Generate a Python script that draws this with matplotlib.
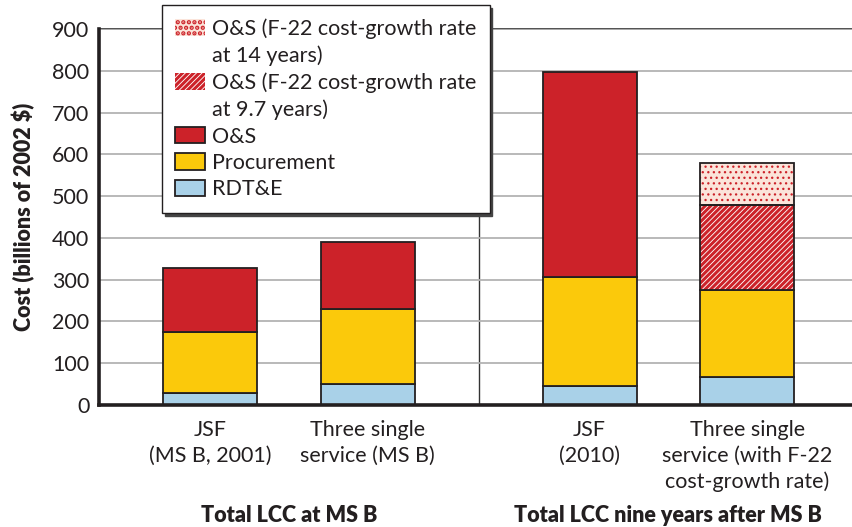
import numpy as np
import matplotlib.pyplot as plt
from matplotlib.patches import Patch

plt.rcParams['font.family'] = ['Lato', 'DejaVu Sans']
plt.rcParams['hatch.linewidth'] = 2.2

# data (billions of 2002 $)
categories = ['JSF\n(MS B, 2001)', 'Three single\nservice (MS B)',
              'JSF\n(2010)', 'Three single\nservice (with F-22\ncost-growth rate)']
rdte = [28, 50, 45, 67]
procurement = [147, 180, 261, 208]
os_base = [153, 159, 491, 0]
os_97 = [0, 0, 0, 204]
os_14 = [0, 0, 0, 100]
groups = ['Total LCC at MS B', 'Total LCC nine years after MS B']

red = '#CC2229'
yellow = '#FBC90B'
blue = '#A9D1E8'
pink = '#FBE4DA'
edge = '#231F20'
fs = 15.5

fig = plt.figure(figsize=(8.53, 5.27), dpi=100)
ax = fig.add_axes([99 / 853, 1 - 405 / 527, 754 / 853, 376 / 527])

x = np.array([0, 1, 2.41, 3.41])
w = 0.597
rdte = np.array(rdte)
procurement = np.array(procurement)
os_base = np.array(os_base)
os_97 = np.array(os_97)
os_14 = np.array(os_14)


def thin_hatch(patches, lw):
    for p in patches:
        if hasattr(p, 'set_hatch_linewidth'):
            p.set_hatch_linewidth(lw)


kw = dict(width=w, edgecolor=edge, linewidth=1.3, zorder=3)
ax.bar(x, rdte, color=blue, **kw)
ax.bar(x, procurement, bottom=rdte, color=yellow, **kw)
b2 = rdte + procurement
ax.bar(x[:3], os_base[:3], bottom=b2[:3], color=red, **kw)

# hatched O&S segments (hatch drawn in red, outline drawn separately)
ax.bar(x[3], os_97[3], bottom=b2[3], width=w, color='white', edgecolor=red,
       hatch='//////', linewidth=0, zorder=3)
ax.bar(x[3], os_97[3], bottom=b2[3], width=w, color='none', edgecolor=edge,
       linewidth=1.3, zorder=4)
b3 = b2 + os_97
dots = ax.bar(x[3], os_14[3], bottom=b3[3], width=w, color=pink, edgecolor=red,
              hatch='...', linewidth=0, zorder=3)
thin_hatch(dots, 0.9)
ax.bar(x[3], os_14[3], bottom=b3[3], width=w, color='none', edgecolor=edge,
       linewidth=1.3, zorder=4)

ax.set_xlim(-0.705, 4.082)
ax.set_ylim(0, 900)
ax.set_yticks(range(0, 901, 100))
ax.set_xticks(x)
ax.set_xticklabels(categories, fontsize=fs, color='#231F20', linespacing=1.35)
ax.tick_params(axis='both', length=0, labelsize=fs, colors='#231F20')
ax.tick_params(axis='y', pad=7)
ax.tick_params(axis='x', pad=11)

ax.grid(axis='y', color='#B3B3B3', linewidth=1.3, zorder=0)
ax.axhline(900, color='#333333', linewidth=1.2, zorder=1, clip_on=False)
ax.axvline((x[1] + x[2]) / 2, color='#333333', linewidth=1, zorder=1)
for s in ['top', 'right']:
    ax.spines[s].set_visible(False)
for s in ['left', 'bottom']:
    ax.spines[s].set_linewidth(2.6)
    ax.spines[s].set_color('#231F20')
    ax.spines[s].set_zorder(5)

ax.set_ylabel('Cost (billions of 2002 $)', fontsize=fs, fontweight='heavy',
              color='#231F20', labelpad=12)

ax.text((x[0] + x[1]) / 2, -0.295, groups[0], transform=ax.get_xaxis_transform(),
        ha='center', va='center', fontsize=fs, fontweight='heavy', color='#231F20')
ax.text((x[2] + x[3]) / 2, -0.295, groups[1], transform=ax.get_xaxis_transform(),
        ha='center', va='center', fontsize=fs, fontweight='heavy', color='#231F20')

# legend: wrapped labels get a blank handle on their second line
blank = Patch(facecolor='none', edgecolor='none')
dot_h = Patch(facecolor=pink, edgecolor=red, hatch='...', linewidth=0)
thin_hatch([dot_h], 0.9)
handles = [
    dot_h, blank,
    Patch(facecolor='white', edgecolor=red, hatch='//////', linewidth=0), blank,
    Patch(facecolor=red, edgecolor=edge, linewidth=1.3),
    Patch(facecolor=yellow, edgecolor=edge, linewidth=1.3),
    Patch(facecolor=blue, edgecolor=edge, linewidth=1.3),
]
labels = ['O&S (F-22 cost-growth rate', 'at 14 years)',
          'O&S (F-22 cost-growth rate', 'at 9.7 years)',
          'O&S', 'Procurement', 'RDT&E']
leg = fig.legend(handles, labels, loc='upper left',
                 bbox_to_anchor=(162 / 853, 1 - 5 / 527), fontsize=fs,
                 frameon=True, fancybox=False, edgecolor='#231F20',
                 framealpha=1, handlelength=1.4, handleheight=0.8,
                 handletextpad=0.3, labelspacing=0.3, borderpad=0.62,
                 borderaxespad=0,
                 shadow={'color': '#444444', 'alpha': 1, 'ox': 2, 'oy': -2})
leg.get_frame().set_linewidth(1.0)
for t in leg.get_texts():
    t.set_color('#231F20')

fig.savefig('out.png', dpi=100)
